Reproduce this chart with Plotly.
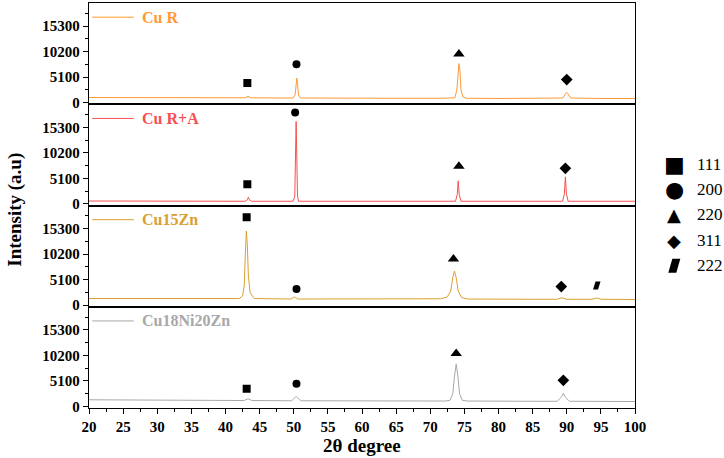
import plotly.graph_objects as go
from plotly.subplots import make_subplots

# ---------------- data ----------------
names = ["Cu R", "Cu R+A", "Cu15Zn", "Cu18Ni20Zn"]
colors = ["#FF9A33", "#F75050", "#D9A030", "#A8A8A8"]

cur_x = [20, 30, 40, 42.9, 43.3, 43.7, 48, 49.9, 50.2, 50.35, 50.45, 50.55, 50.7, 51.0, 55, 65, 72,
         73.6, 73.9, 74.05, 74.2, 74.35, 74.5, 74.8, 75.3, 80, 88, 89.4, 89.8, 90.0, 90.2, 90.6, 95, 100]
cur_y = [1000, 980, 950, 950, 1250, 950, 900, 900, 1500, 3800, 4900, 3800, 1500, 900, 850, 850, 850,
         950, 2500, 6500, 7800, 6500, 2500, 1100, 850, 800, 800, 900, 1700, 2000, 1700, 900, 800, 800]

cura_x = [20, 35, 42.9, 43.2, 43.35, 43.5, 43.8, 49.9, 50.15, 50.25, 50.35, 50.45, 50.55, 50.7, 60,
          73.7, 73.95, 74.1, 74.25, 74.5, 85, 89.4, 89.65, 89.8, 89.95, 90.2, 100]
cura_y = [550, 500, 500, 800, 1300, 800, 500, 500, 1500, 9000, 16500, 9200, 1500, 500, 500,
          500, 1800, 4600, 1800, 500, 500, 500, 2000, 5400, 2000, 500, 500]

zn_x = [20, 30, 40, 42.0, 42.5, 42.75, 42.9, 43.05, 43.2, 43.35, 43.6, 44.2, 49.6, 50.1, 50.6, 60,
        71.5, 72.5, 73.0, 73.3, 73.55, 73.8, 74.1, 74.6, 75.5, 85, 88.6, 89.3, 90.0, 93.7, 94.4, 95.1, 100]
zn_y = [1300, 1250, 1200, 1300, 1800, 4000, 10000, 14800, 12000, 6000, 2500, 1300, 1200, 1600, 1200, 1200,
        1250, 1600, 2800, 5500, 6800, 5500, 2800, 1500, 1200, 1150, 1150, 1450, 1150, 1150, 1400, 1150, 1100]

ni_x = [20, 30, 42.7, 43.3, 43.9, 49.7, 50.35, 51.0, 60, 72.2, 72.9, 73.3, 73.55, 73.8, 74.05, 74.3,
        74.7, 75.4, 85, 88.6, 89.2, 89.5, 89.8, 90.4, 100]
ni_y = [1300, 1250, 1150, 1500, 1150, 1100, 2000, 1100, 1050, 1050, 1200, 2500, 6000, 8500, 6000, 2500,
        1200, 1050, 1000, 1000, 1800, 2600, 1800, 1000, 950]

series_x = [cur_x, cura_x, zn_x, ni_x]
series_y = [cur_y, cura_y, zn_y, ni_y]

# peak markers per panel: (plane, 2theta, height)
peak_planes = ["111", "200", "220", "311", "222"]
peak_symbols = {"111": "square", "200": "circle", "220": "triangle-up", "311": "diamond"}
peak_sizes = {"111": 8, "200": 8, "220": 10, "311": 9}
mark_planes = [["111", "200", "220", "311"],
               ["111", "200", "220", "311"],
               ["111", "200", "220", "311", "222"],
               ["111", "200", "220", "311"]]
mark_x = [[43.2, 50.4, 74.2, 90.0],
          [43.2, 50.2, 74.2, 89.8],
          [43.1, 50.4, 73.4, 89.2, 94.4],
          [43.1, 50.4, 73.8, 89.5]]
mark_y = [[3900, 7650, 9700, 4600],
          [3900, 18300, 7500, 7100],
          [17600, 3200, 9200, 3700, 3900],
          [3500, 4500, 10600, 5200]]

SERIF = "Liberation Serif, Times New Roman, serif"

# parallelogram outline (pixel offsets around an anchor)
def para_path(w, h, s):
    return (f"M {-w/2 - s/2},{-h/2} L {w/2 - s/2},{-h/2} "
            f"L {w/2 + s/2},{h/2} L {-w/2 + s/2},{h/2} Z")

# ---------------- figure ----------------
fig = make_subplots(rows=4, cols=1, shared_xaxes=True, vertical_spacing=0)

for i in range(4):
    r = i + 1
    xname = "x" if r == 1 else f"x{r}"
    yname = "y" if r == 1 else f"y{r}"
    fig.add_trace(go.Scatter(x=series_x[i], y=series_y[i], mode="lines",
                             line=dict(color=colors[i], width=1), showlegend=False,
                             hoverinfo="skip"), row=r, col=1)
    for p in ["111", "200", "220", "311"]:
        xs = [mark_x[i][k] for k, q in enumerate(mark_planes[i]) if q == p]
        ys = [mark_y[i][k] for k, q in enumerate(mark_planes[i]) if q == p]
        if xs:
            fig.add_trace(go.Scatter(x=xs, y=ys, mode="markers",
                                     marker=dict(symbol=peak_symbols[p], size=peak_sizes[p],
                                                 color="black", line=dict(width=0)),
                                     showlegend=False), row=r, col=1)
    for k, q in enumerate(mark_planes[i]):
        if q == "222":
            fig.add_shape(type="path", xref=xname, yref=yname,
                          xsizemode="pixel", ysizemode="pixel",
                          xanchor=mark_x[i][k], yanchor=mark_y[i][k],
                          path=para_path(5, 8, 2.5), fillcolor="black",
                          line=dict(width=0))

    # in-panel series label
    fig.add_shape(type="line", xref="x domain", yref=f"{yname} domain",
                  x0=0.006, x1=0.082, y0=0.86, y1=0.86,
                  line=dict(color=colors[i], width=1))
    fig.add_annotation(xref="x domain", yref=f"{yname} domain", x=0.093, y=0.86,
                       text=f"<b>{names[i]}</b>", showarrow=False, xanchor="left", yanchor="middle",
                       font=dict(family=SERIF, size=16, color=colors[i]))

    fig.update_yaxes(row=r, col=1, range=[-350, 19950], tick0=0, dtick=5100, tickformat="d",
                     ticks="outside", ticklen=5, tickwidth=1.3, tickcolor="black",
                     minor=dict(dtick=2550, tick0=0, ticks="outside", ticklen=3, tickcolor="black"),
                     showline=True, linecolor="black", linewidth=1.3, mirror=True,
                     showgrid=False, zeroline=False,
                     tickfont=dict(family=SERIF, size=15, color="black", weight="bold"))
    if r < 4:
        fig.update_xaxes(row=r, col=1, ticks="", showticklabels=False)

fig.update_xaxes(range=[20, 100], showgrid=False, zeroline=False, showline=True,
                 linecolor="black", linewidth=1.3, mirror=True)
fig.update_xaxes(row=4, col=1, tick0=20, dtick=5, ticks="outside", ticklen=5, tickwidth=1.3,
                 tickcolor="black", showticklabels=True,
                 minor=dict(dtick=2.5, ticks="outside", ticklen=3, tickcolor="black"),
                 tickfont=dict(family=SERIF, size=15, color="black", weight="bold"))

# axis titles
fig.add_annotation(xref="paper", yref="paper", x=-0.137, y=0.49, text="<b>Intensity (a.u)</b>",
                   textangle=-90, showarrow=False, xanchor="center", yanchor="middle",
                   font=dict(family=SERIF, size=19, color="black"))
fig.add_annotation(xref="paper", yref="paper", x=0.5, y=0, yshift=-37, text="<b>2θ degree</b>",
                   showarrow=False, xanchor="center", yanchor="middle",
                   font=dict(family=SERIF, size=19, color="black"))

# plane key on the right
key_glyphs = ["■", "●", "▲", "◆", None]
key_sizes = [22, 22, 18, 18, 20]
key_y = [0.602, 0.54, 0.477, 0.414, 0.351]
for g, s, yy, lab in zip(key_glyphs, key_sizes, key_y, peak_planes):
    if g is None:
        fig.add_shape(type="path", xref="paper", yref="paper",
                      xsizemode="pixel", ysizemode="pixel", xanchor=1.072, yanchor=yy,
                      path=para_path(8, 14, 4), fillcolor="black", line=dict(width=0))
    else:
        fig.add_annotation(xref="paper", yref="paper", x=1.072, y=yy, text=g, showarrow=False,
                           xanchor="center", yanchor="middle",
                           font=dict(family="DejaVu Sans", size=s, color="black"))
    fig.add_annotation(xref="paper", yref="paper", x=1.11, y=yy, text=lab, showarrow=False,
                       xanchor="left", yanchor="middle",
                       font=dict(family=SERIF, size=17, color="black"))

fig.update_layout(width=724, height=458, margin=dict(l=89, r=89, t=3, b=50),
                  plot_bgcolor="white", paper_bgcolor="white", showlegend=False)

fig.write_html("out.html", config={"displayModeBar": False},
               post_script="document.body.style.margin='0px';")
